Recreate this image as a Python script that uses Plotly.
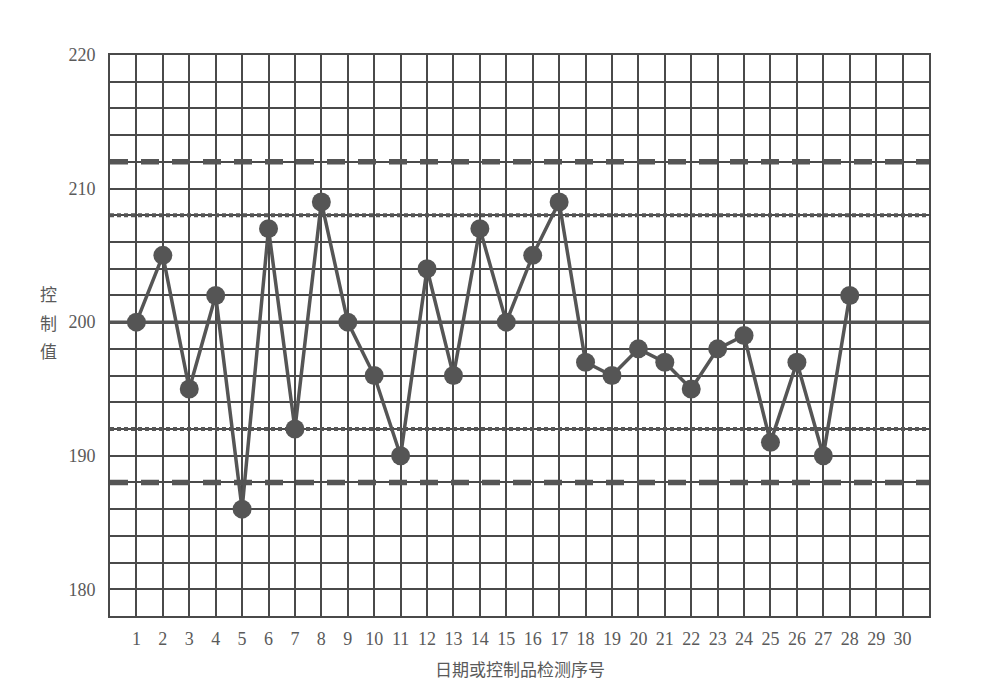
import plotly.graph_objects as go

seq = list(range(1, 29))
values = [200, 205, 195, 202, 186, 207, 192, 209, 200, 196, 190, 204, 196, 207,
          200, 205, 209, 197, 196, 198, 197, 195, 198, 199, 191, 197, 190, 202]
x_labels = [str(i) for i in range(1, 31)]
y_ticks = [180, 190, 200, 210, 220]
center = 200
ucl, lcl = 212, 188
uwl, lwl = 208, 192

grid_col = "#4a4a4a"
mark_col = "#555555"
text_col = "#5a5a5a"

fig = go.Figure()

X0, X1 = 0, 31
for yv, dash, w in [(ucl, "18px,13px", 5.5), (lcl, "18px,13px", 5.5),
                    (uwl, "4px,3px", 4), (lwl, "4px,3px", 4),
                    (center, "solid", 3.5)]:
    fig.add_trace(go.Scatter(x=[X0, X1], y=[yv, yv], mode="lines",
                             line=dict(color=mark_col, width=w, dash=dash),
                             hoverinfo="skip", showlegend=False))

fig.add_trace(go.Scatter(x=seq, y=values, mode="lines+markers",
                         line=dict(color=mark_col, width=3.5),
                         marker=dict(color=mark_col, size=19),
                         showlegend=False))

tickvals = list(range(0, 32))
ticktext = [""] + x_labels + [""]

W, H = 996, 684
L, R, T, B = 102, 75, 47, 76
pw = W - L - R
ph = H - T - B

def px_to_paper(xp, yp):
    # page pixel coords (body offset of 8px) to paper coords
    return (xp - 8 - L) / pw, (H - B - (yp - 8)) / ph

annos = []
for ch, yp in [("控", 293), ("制", 322), ("值", 350)]:
    xx, yy = px_to_paper(48, yp)
    annos.append(dict(text=ch, x=xx, y=yy, xref="paper", yref="paper",
                      showarrow=False, xanchor="center", yanchor="middle",
                      font=dict(family="Noto Sans CJK SC", size=17, color=text_col)))
xx, yy = px_to_paper(497, 668)
annos.append(dict(text="日期或控制品检测序号", x=0.5, y=yy, xref="paper", yref="paper",
                  showarrow=False, xanchor="center", yanchor="middle",
                  font=dict(family="Noto Sans CJK SC", size=17, color=text_col)))

fig.update_layout(
    width=W, height=H,
    margin=dict(l=L, r=R, t=T, b=B),
    paper_bgcolor="white", plot_bgcolor="white",
    xaxis=dict(range=[0, 31], tickvals=tickvals, ticktext=ticktext,
               showgrid=True, gridcolor=grid_col, gridwidth=1.5,
               showline=True, linecolor=grid_col, linewidth=2, mirror=True,
               zeroline=False, ticks="", ticklabelstandoff=5,
               tickfont=dict(family="Liberation Serif", size=18, color=text_col)),
    yaxis=dict(range=[178, 220], tickmode="array",
               tickvals=list(range(178, 221, 2)),
               ticktext=[str(v) if v in y_ticks else "" for v in range(178, 221, 2)],
               showgrid=True, gridcolor=grid_col, gridwidth=1.5,
               showline=True, linecolor=grid_col, linewidth=2, mirror=True,
               zeroline=False, ticks="", ticklabelstandoff=9,
               tickfont=dict(family="Liberation Serif", size=18, color=text_col)),
    annotations=annos,
)

fig.write_html("out.html")
